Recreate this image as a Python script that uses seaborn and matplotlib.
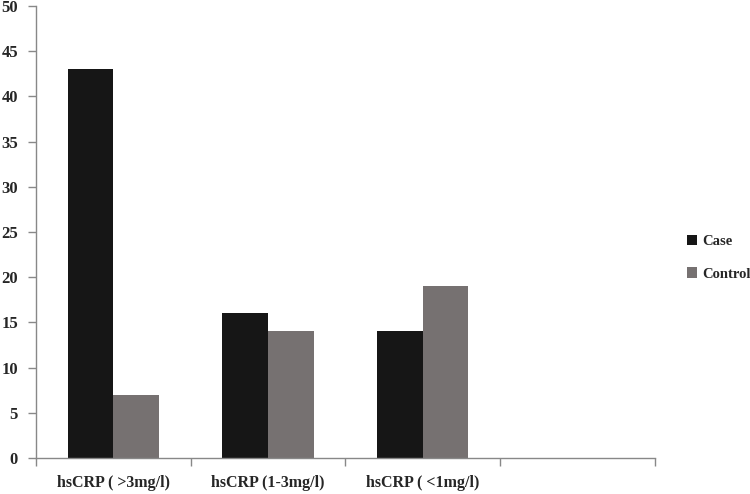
import numpy as np
import pandas as pd
import matplotlib
matplotlib.use("Agg")
import matplotlib.pyplot as plt
import seaborn as sns

# Data
categories = ["hsCRP ( >3mg/l)", "hsCRP (1-3mg/l)", "hsCRP ( <1mg/l)"]
case_values = [43, 16, 14]
control_values = [7, 14, 19]
groups = ["Case", "Control"]
colors = ["#161616", "#767171"]

df = pd.DataFrame({
    "category": categories * 2,
    "group": [groups[0]] * len(categories) + [groups[1]] * len(categories),
    "value": case_values + control_values,
})

sns.set_style("white")
plt.rcParams["font.family"] = ["Liberation Serif", "DejaVu Serif"]
plt.rcParams["font.weight"] = "bold"

fig = plt.figure(figsize=(7.5, 4.94), dpi=100)
ax = fig.add_axes([0.048, 0.073, 0.825, 0.915])

sns.barplot(data=df, x="category", y="value", hue="group", order=categories,
            hue_order=groups, palette=colors, width=0.59, saturation=1,
            edgecolor="none", linewidth=0, ax=ax, legend=True)

# axes styling: fourth empty slot, boundary ticks on x
ax.set_xlim(-0.5, 3.5)
ax.set_ylim(0, 50)
ax.set_yticks(np.arange(0, 51, 5))
ax.set_xticks(range(4))
ax.set_xticklabels(categories + [""], fontsize=11.5, fontweight="bold")
ax.set_xticks(np.arange(-0.5, 3.6, 1), minor=True)
ax.tick_params(axis="x", which="major", bottom=True, length=0, pad=12)
ax.tick_params(axis="x", which="minor", bottom=True, length=6, color="#888888",
               width=1, direction="out")
ax.tick_params(axis="y", left=True, length=6, color="#888888", width=1, direction="out",
               pad=7, labelsize=12)
for lbl in ax.get_yticklabels():
    lbl.set_fontweight("bold")
ax.set_xlabel("")
ax.set_ylabel("")
for side in ["top", "right"]:
    ax.spines[side].set_visible(False)
for side in ["left", "bottom"]:
    ax.spines[side].set_color("#888888")
    ax.spines[side].set_linewidth(1)

handles, labels = ax.get_legend_handles_labels()
ax.get_legend().remove()
fig.legend(handles, labels, loc="center left", bbox_to_anchor=(0.898, 0.478),
           frameon=False, handlelength=0.7, handleheight=0.7, handletextpad=0.4,
           labelspacing=1.3, prop={"family": "Liberation Serif", "weight": "bold", "size": 10.5})

fig.savefig("out.png", dpi=100)
